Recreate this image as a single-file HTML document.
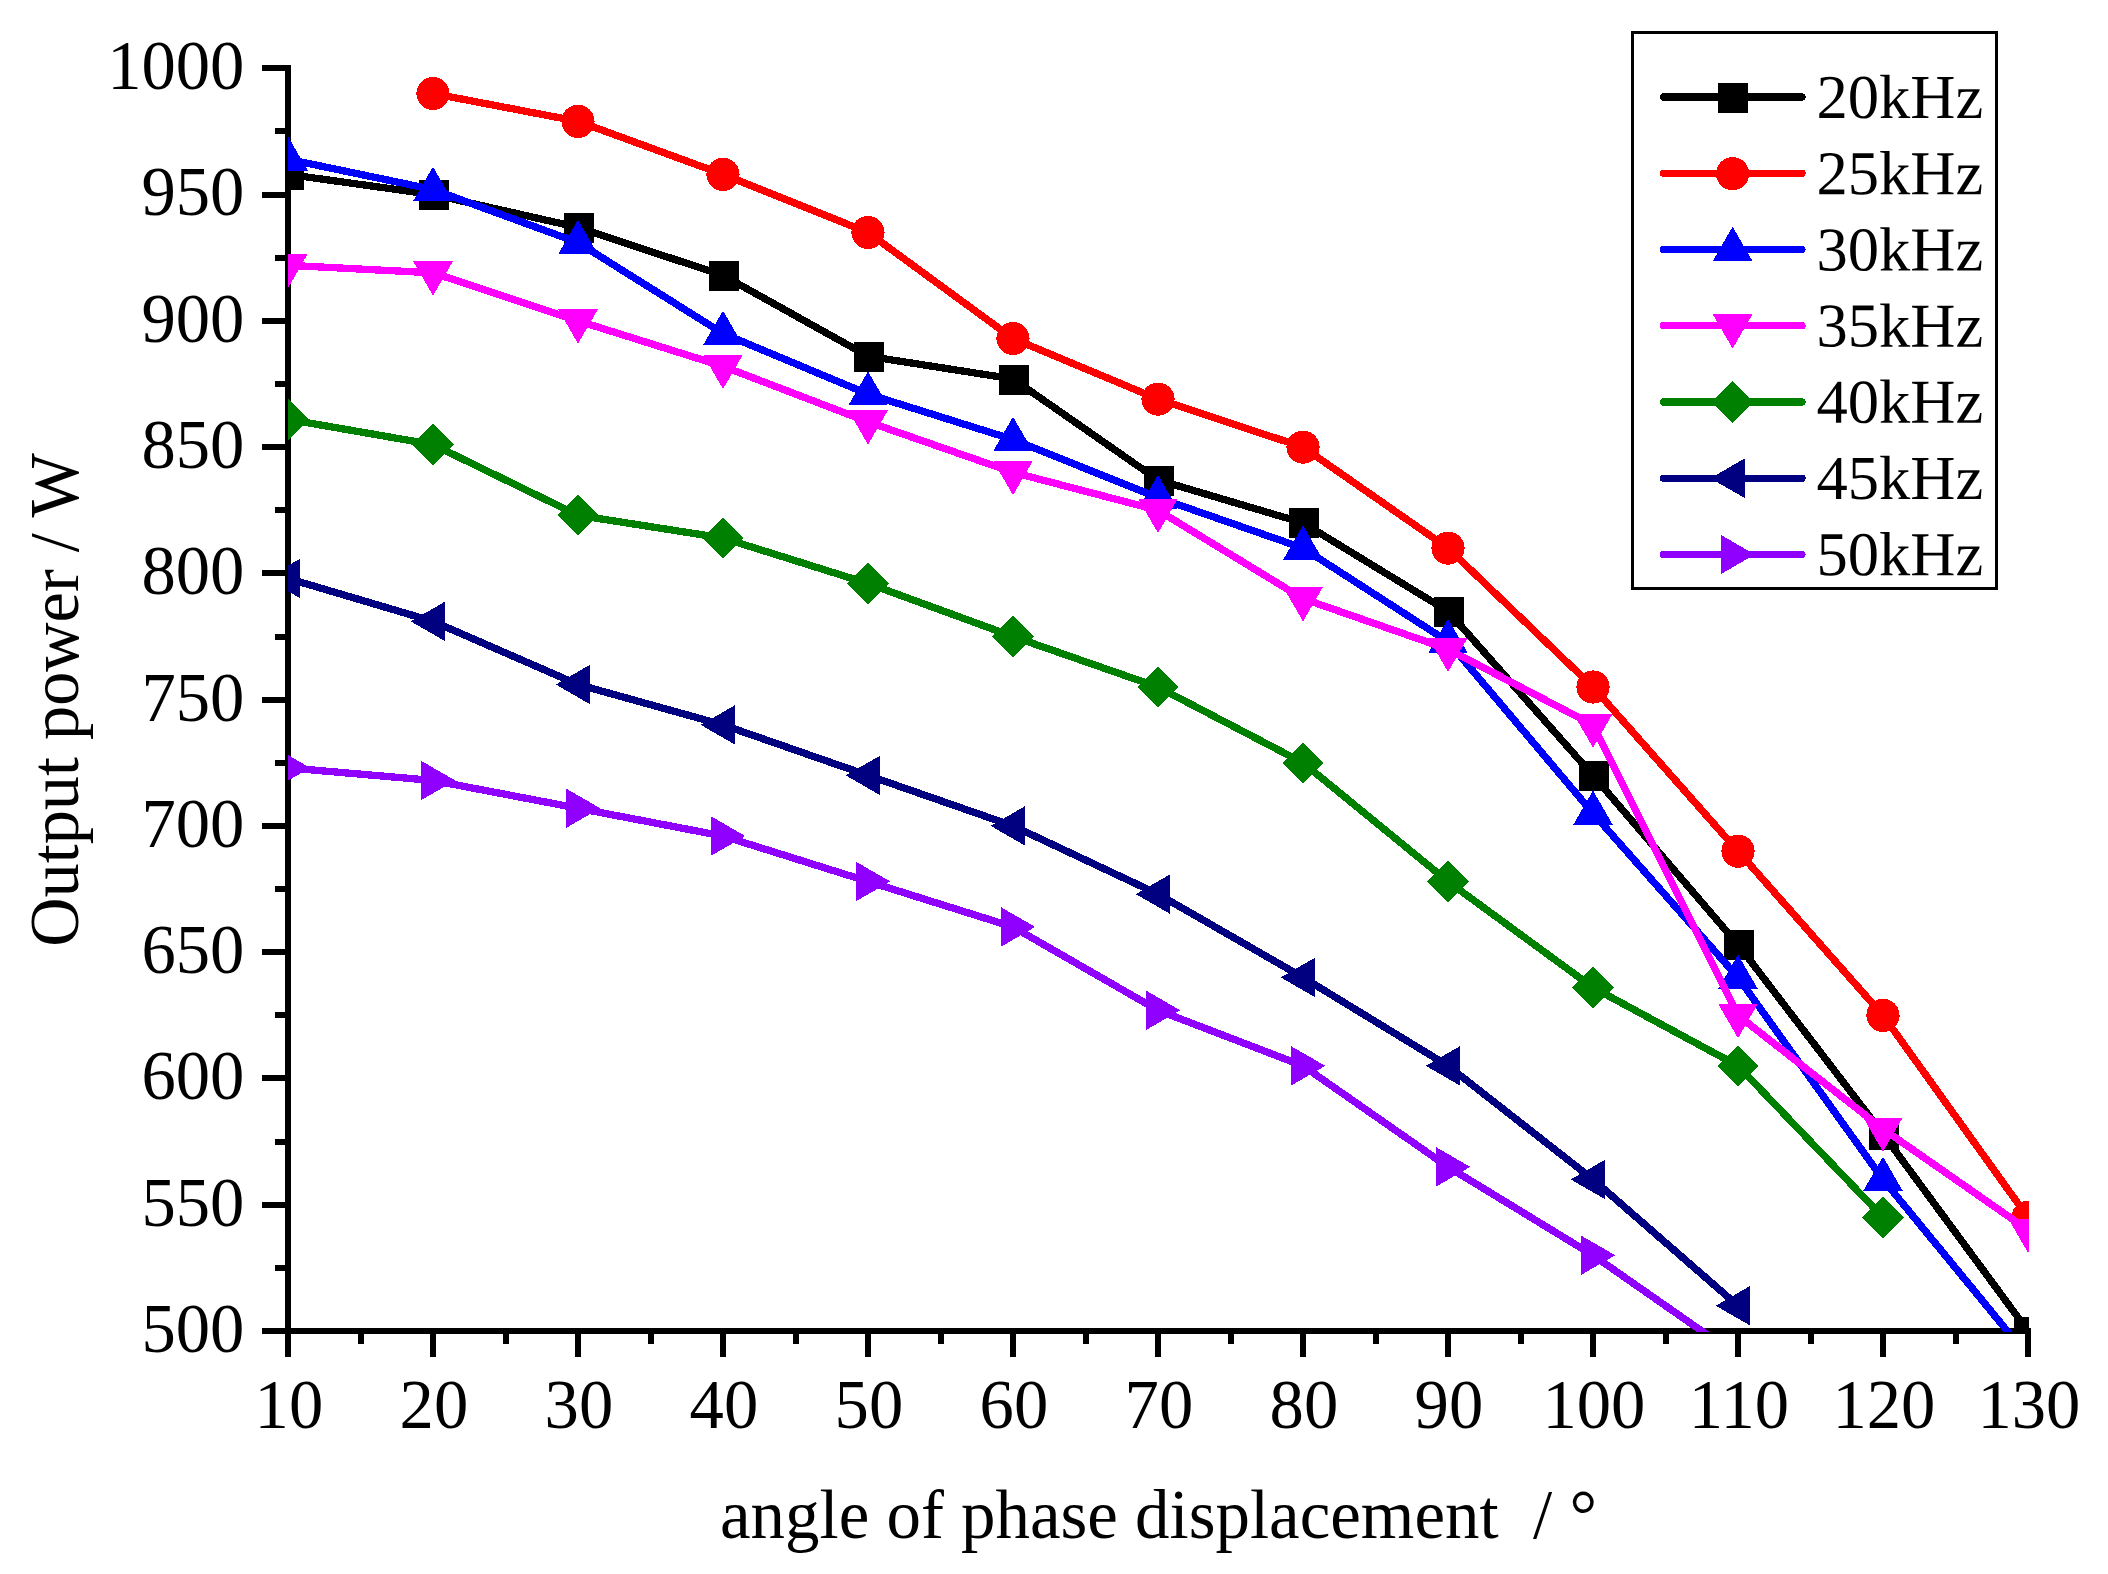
<!DOCTYPE html>
<html lang="en"><head><meta charset="utf-8"><title>Output power vs angle of phase displacement</title>
<style>html,body{margin:0;padding:0;background:#fff}body{width:2108px;height:1574px;overflow:hidden}svg{display:block}text{font-family:"Liberation Serif",serif;fill:#000}</style></head><body>
<svg width="2108" height="1574" viewBox="0 0 2108 1574">
<rect width="2108" height="1574" fill="#fff"/>
<defs><clipPath id="pc"><rect x="288" y="40" width="1741" height="1292"/></clipPath></defs>
<g stroke="#000" stroke-width="6" fill="none" shape-rendering="crispEdges">
<line x1="288" y1="65.3" x2="288" y2="1334"/>
<line x1="262" y1="1331" x2="2031" y2="1331"/>
<line x1="262" y1="68.3" x2="288" y2="68.3"/>
<line x1="275" y1="131.44" x2="288" y2="131.44"/>
<line x1="262" y1="194.57" x2="288" y2="194.57"/>
<line x1="275" y1="257.7" x2="288" y2="257.7"/>
<line x1="262" y1="320.84" x2="288" y2="320.84"/>
<line x1="275" y1="383.98" x2="288" y2="383.98"/>
<line x1="262" y1="447.11" x2="288" y2="447.11"/>
<line x1="275" y1="510.25" x2="288" y2="510.25"/>
<line x1="262" y1="573.38" x2="288" y2="573.38"/>
<line x1="275" y1="636.51" x2="288" y2="636.51"/>
<line x1="262" y1="699.65" x2="288" y2="699.65"/>
<line x1="275" y1="762.78" x2="288" y2="762.78"/>
<line x1="262" y1="825.92" x2="288" y2="825.92"/>
<line x1="275" y1="889.05" x2="288" y2="889.05"/>
<line x1="262" y1="952.19" x2="288" y2="952.19"/>
<line x1="275" y1="1015.32" x2="288" y2="1015.32"/>
<line x1="262" y1="1078.46" x2="288" y2="1078.46"/>
<line x1="275" y1="1141.59" x2="288" y2="1141.59"/>
<line x1="262" y1="1204.73" x2="288" y2="1204.73"/>
<line x1="275" y1="1267.86" x2="288" y2="1267.86"/>
<line x1="288" y1="1331" x2="288" y2="1357"/>
<line x1="360.5" y1="1331" x2="360.5" y2="1344"/>
<line x1="433" y1="1331" x2="433" y2="1357"/>
<line x1="505.5" y1="1331" x2="505.5" y2="1344"/>
<line x1="578" y1="1331" x2="578" y2="1357"/>
<line x1="650.5" y1="1331" x2="650.5" y2="1344"/>
<line x1="723" y1="1331" x2="723" y2="1357"/>
<line x1="795.5" y1="1331" x2="795.5" y2="1344"/>
<line x1="868" y1="1331" x2="868" y2="1357"/>
<line x1="940.5" y1="1331" x2="940.5" y2="1344"/>
<line x1="1013" y1="1331" x2="1013" y2="1357"/>
<line x1="1085.5" y1="1331" x2="1085.5" y2="1344"/>
<line x1="1158" y1="1331" x2="1158" y2="1357"/>
<line x1="1230.5" y1="1331" x2="1230.5" y2="1344"/>
<line x1="1303" y1="1331" x2="1303" y2="1357"/>
<line x1="1375.5" y1="1331" x2="1375.5" y2="1344"/>
<line x1="1448" y1="1331" x2="1448" y2="1357"/>
<line x1="1520.5" y1="1331" x2="1520.5" y2="1344"/>
<line x1="1593" y1="1331" x2="1593" y2="1357"/>
<line x1="1665.5" y1="1331" x2="1665.5" y2="1344"/>
<line x1="1738" y1="1331" x2="1738" y2="1357"/>
<line x1="1810.5" y1="1331" x2="1810.5" y2="1344"/>
<line x1="1883" y1="1331" x2="1883" y2="1357"/>
<line x1="1955.5" y1="1331" x2="1955.5" y2="1344"/>
<line x1="2028" y1="1331" x2="2028" y2="1357"/>
</g>
<g font-size="68.6">
<text transform="translate(244.3 89.2) scale(1 1.02)" text-anchor="end">1000</text>
<text transform="translate(244.3 215.47) scale(1 1.02)" text-anchor="end">950</text>
<text transform="translate(244.3 341.74) scale(1 1.02)" text-anchor="end">900</text>
<text transform="translate(244.3 468.01) scale(1 1.02)" text-anchor="end">850</text>
<text transform="translate(244.3 594.28) scale(1 1.02)" text-anchor="end">800</text>
<text transform="translate(244.3 720.55) scale(1 1.02)" text-anchor="end">750</text>
<text transform="translate(244.3 846.82) scale(1 1.02)" text-anchor="end">700</text>
<text transform="translate(244.3 973.09) scale(1 1.02)" text-anchor="end">650</text>
<text transform="translate(244.3 1099.36) scale(1 1.02)" text-anchor="end">600</text>
<text transform="translate(244.3 1225.63) scale(1 1.02)" text-anchor="end">550</text>
<text transform="translate(244.3 1351.9) scale(1 1.02)" text-anchor="end">500</text>
<text transform="translate(288.9 1428) scale(1 1.02)" text-anchor="middle">10</text>
<text transform="translate(433.9 1428) scale(1 1.02)" text-anchor="middle">20</text>
<text transform="translate(578.9 1428) scale(1 1.02)" text-anchor="middle">30</text>
<text transform="translate(723.9 1428) scale(1 1.02)" text-anchor="middle">40</text>
<text transform="translate(868.9 1428) scale(1 1.02)" text-anchor="middle">50</text>
<text transform="translate(1013.9 1428) scale(1 1.02)" text-anchor="middle">60</text>
<text transform="translate(1158.9 1428) scale(1 1.02)" text-anchor="middle">70</text>
<text transform="translate(1303.9 1428) scale(1 1.02)" text-anchor="middle">80</text>
<text transform="translate(1448.9 1428) scale(1 1.02)" text-anchor="middle">90</text>
<text transform="translate(1593.9 1428) scale(1 1.02)" text-anchor="middle">100</text>
<text transform="translate(1738.9 1428) scale(1 1.02)" text-anchor="middle">110</text>
<text transform="translate(1883.9 1428) scale(1 1.02)" text-anchor="middle">120</text>
<text transform="translate(2028.9 1428) scale(1 1.02)" text-anchor="middle">130</text>
<text x="1158.5" y="1538.4" font-size="68.9" text-anchor="middle" xml:space="preserve">angle of phase displacement  / °</text>
<text transform="translate(78.4 699.9) rotate(-90) scale(1 1.02)" font-size="68.3" text-anchor="middle">Output power / W</text>
</g>
<g clip-path="url(#pc)" shape-rendering="crispEdges">
<polyline fill="none" stroke="#000000" stroke-width="7.3" stroke-linejoin="round" stroke-linecap="round" points="288,174.37 433,194.57 578,227.4 723,275.38 868,356.2 1013,378.92 1158,479.94 1303,522.87 1448,611.26 1593,775.41 1738,944.61 1883,1134.02 2028,1331"/>
<rect x="273.75" y="159.97" width="30" height="30" fill="#000000"/>
<rect x="418.75" y="180.17" width="30" height="30" fill="#000000"/>
<rect x="563.75" y="213" width="30" height="30" fill="#000000"/>
<rect x="708.75" y="260.98" width="30" height="30" fill="#000000"/>
<rect x="853.75" y="341.8" width="30" height="30" fill="#000000"/>
<rect x="998.75" y="364.52" width="30" height="30" fill="#000000"/>
<rect x="1143.75" y="465.54" width="30" height="30" fill="#000000"/>
<rect x="1288.75" y="508.47" width="30" height="30" fill="#000000"/>
<rect x="1433.75" y="596.86" width="30" height="30" fill="#000000"/>
<rect x="1578.75" y="761.01" width="30" height="30" fill="#000000"/>
<rect x="1723.75" y="930.21" width="30" height="30" fill="#000000"/>
<rect x="1868.75" y="1119.62" width="30" height="30" fill="#000000"/>
<rect x="2013.75" y="1316.6" width="30" height="30" fill="#000000"/>
<polyline fill="none" stroke="#ff0000" stroke-width="7.3" stroke-linejoin="round" stroke-linecap="round" points="433,93.55 578,121.33 723,174.37 868,232.45 1013,338.52 1158,399.13 1303,447.11 1448,548.13 1593,687.02 1738,851.17 1883,1015.32 2028,1217.36"/>
<circle cx="433" cy="93.55" r="16.6" fill="#ff0000"/>
<circle cx="578" cy="121.33" r="16.6" fill="#ff0000"/>
<circle cx="723" cy="174.37" r="16.6" fill="#ff0000"/>
<circle cx="868" cy="232.45" r="16.6" fill="#ff0000"/>
<circle cx="1013" cy="338.52" r="16.6" fill="#ff0000"/>
<circle cx="1158" cy="399.13" r="16.6" fill="#ff0000"/>
<circle cx="1303" cy="447.11" r="16.6" fill="#ff0000"/>
<circle cx="1448" cy="548.13" r="16.6" fill="#ff0000"/>
<circle cx="1593" cy="687.02" r="16.6" fill="#ff0000"/>
<circle cx="1738" cy="851.17" r="16.6" fill="#ff0000"/>
<circle cx="1883" cy="1015.32" r="16.6" fill="#ff0000"/>
<circle cx="2028" cy="1217.36" r="16.6" fill="#ff0000"/>
<polyline fill="none" stroke="#0000ff" stroke-width="7.3" stroke-linejoin="round" stroke-linecap="round" points="288,159.21 433,189.52 578,242.55 723,333.47 868,394.08 1013,439.53 1158,497.62 1303,548.13 1448,641.57 1593,813.29 1738,977.44 1883,1179.48 2028,1356.25"/>
<polygon points="288,136.41 268.25,170.62 307.75,170.62" fill="#0000ff"/>
<polygon points="433,166.71 413.25,200.92 452.75,200.92" fill="#0000ff"/>
<polygon points="578,219.75 558.25,253.96 597.75,253.96" fill="#0000ff"/>
<polygon points="723,310.66 703.25,344.87 742.75,344.87" fill="#0000ff"/>
<polygon points="868,371.27 848.25,405.48 887.75,405.48" fill="#0000ff"/>
<polygon points="1013,416.73 993.25,450.94 1032.75,450.94" fill="#0000ff"/>
<polygon points="1158,474.81 1138.25,509.02 1177.75,509.02" fill="#0000ff"/>
<polygon points="1303,525.32 1283.25,559.53 1322.75,559.53" fill="#0000ff"/>
<polygon points="1448,618.76 1428.25,652.97 1467.75,652.97" fill="#0000ff"/>
<polygon points="1593,790.49 1573.25,824.7 1612.75,824.7" fill="#0000ff"/>
<polygon points="1738,954.64 1718.25,988.85 1757.75,988.85" fill="#0000ff"/>
<polygon points="1883,1156.67 1863.25,1190.88 1902.75,1190.88" fill="#0000ff"/>
<polygon points="2028,1333.45 2008.25,1367.66 2047.75,1367.66" fill="#0000ff"/>
<polyline fill="none" stroke="#ff00ff" stroke-width="7.3" stroke-linejoin="round" stroke-linecap="round" points="288,265.28 433,272.86 578,320.84 723,366.3 868,421.86 1013,472.36 1158,510.25 1303,598.63 1448,649.14 1593,724.9 1738,1015.32 1883,1128.97 2028,1229.98"/>
<polygon points="288,288.09 268.25,253.88 307.75,253.88" fill="#ff00ff"/>
<polygon points="433,295.66 413.25,261.45 452.75,261.45" fill="#ff00ff"/>
<polygon points="578,343.65 558.25,309.44 597.75,309.44" fill="#ff00ff"/>
<polygon points="723,389.1 703.25,354.89 742.75,354.89" fill="#ff00ff"/>
<polygon points="868,444.66 848.25,410.45 887.75,410.45" fill="#ff00ff"/>
<polygon points="1013,495.17 993.25,460.96 1032.75,460.96" fill="#ff00ff"/>
<polygon points="1158,533.05 1138.25,498.84 1177.75,498.84" fill="#ff00ff"/>
<polygon points="1303,621.44 1283.25,587.23 1322.75,587.23" fill="#ff00ff"/>
<polygon points="1448,671.95 1428.25,637.74 1467.75,637.74" fill="#ff00ff"/>
<polygon points="1593,747.71 1573.25,713.5 1612.75,713.5" fill="#ff00ff"/>
<polygon points="1738,1038.13 1718.25,1003.92 1757.75,1003.92" fill="#ff00ff"/>
<polygon points="1883,1151.77 1863.25,1117.57 1902.75,1117.57" fill="#ff00ff"/>
<polygon points="2028,1252.79 2008.25,1218.58 2047.75,1218.58" fill="#ff00ff"/>
<polyline fill="none" stroke="#008000" stroke-width="7.3" stroke-linejoin="round" stroke-linecap="round" points="288,419.33 433,444.58 578,515.3 723,538.02 868,583.48 1013,636.51 1158,687.02 1303,762.78 1448,881.48 1593,987.55 1738,1065.83 1883,1217.36"/>
<polygon points="288,398.63 308.7,419.33 288,440.03 267.3,419.33" fill="#008000"/>
<polygon points="433,423.88 453.7,444.58 433,465.28 412.3,444.58" fill="#008000"/>
<polygon points="578,494.6 598.7,515.3 578,536 557.3,515.3" fill="#008000"/>
<polygon points="723,517.32 743.7,538.02 723,558.72 702.3,538.02" fill="#008000"/>
<polygon points="868,562.78 888.7,583.48 868,604.18 847.3,583.48" fill="#008000"/>
<polygon points="1013,615.81 1033.7,636.51 1013,657.21 992.3,636.51" fill="#008000"/>
<polygon points="1158,666.32 1178.7,687.02 1158,707.72 1137.3,687.02" fill="#008000"/>
<polygon points="1303,742.08 1323.7,762.78 1303,783.49 1282.3,762.78" fill="#008000"/>
<polygon points="1448,860.78 1468.7,881.48 1448,902.18 1427.3,881.48" fill="#008000"/>
<polygon points="1593,966.85 1613.7,987.55 1593,1008.25 1572.3,987.55" fill="#008000"/>
<polygon points="1738,1045.13 1758.7,1065.83 1738,1086.53 1717.3,1065.83" fill="#008000"/>
<polygon points="1883,1196.66 1903.7,1217.36 1883,1238.06 1862.3,1217.36" fill="#008000"/>
<polyline fill="none" stroke="#000080" stroke-width="7.3" stroke-linejoin="round" stroke-linecap="round" points="288,578.43 433,621.36 578,684.5 723,724.9 868,775.41 1013,825.92 1158,894.11 1303,977.44 1448,1065.83 1593,1179.48 1738,1305.75"/>
<polygon points="265.79,578.43 300,558.68 300,598.18" fill="#000080"/>
<polygon points="410.79,621.36 445,601.61 445,641.11" fill="#000080"/>
<polygon points="555.79,684.5 590,664.75 590,704.25" fill="#000080"/>
<polygon points="700.79,724.9 735,705.15 735,744.65" fill="#000080"/>
<polygon points="845.79,775.41 880,755.66 880,795.16" fill="#000080"/>
<polygon points="990.79,825.92 1025,806.17 1025,845.67" fill="#000080"/>
<polygon points="1135.79,894.11 1170,874.36 1170,913.86" fill="#000080"/>
<polygon points="1280.79,977.44 1315,957.69 1315,997.19" fill="#000080"/>
<polygon points="1425.79,1065.83 1460,1046.08 1460,1085.58" fill="#000080"/>
<polygon points="1570.79,1179.48 1605,1159.73 1605,1199.23" fill="#000080"/>
<polygon points="1715.79,1305.75 1750,1286 1750,1325.5" fill="#000080"/>
<polyline fill="none" stroke="#9000ff" stroke-width="7.3" stroke-linejoin="round" stroke-linecap="round" points="288,767.84 433,780.46 578,808.24 723,836.02 868,881.48 1013,926.94 1158,1010.27 1303,1065.83 1448,1166.85 1593,1255.24 1738,1356.25"/>
<polygon points="310.21,767.84 276,748.09 276,787.59" fill="#9000ff"/>
<polygon points="455.21,780.46 421,760.71 421,800.21" fill="#9000ff"/>
<polygon points="600.21,808.24 566,788.49 566,827.99" fill="#9000ff"/>
<polygon points="745.21,836.02 711,816.27 711,855.77" fill="#9000ff"/>
<polygon points="890.21,881.48 856,861.73 856,901.23" fill="#9000ff"/>
<polygon points="1035.21,926.94 1001,907.19 1001,946.69" fill="#9000ff"/>
<polygon points="1180.21,1010.27 1146,990.52 1146,1030.02" fill="#9000ff"/>
<polygon points="1325.21,1065.83 1291,1046.08 1291,1085.58" fill="#9000ff"/>
<polygon points="1470.21,1166.85 1436,1147.1 1436,1186.6" fill="#9000ff"/>
<polygon points="1615.21,1255.24 1581,1235.49 1581,1274.99" fill="#9000ff"/>
<polygon points="1760.21,1356.25 1726,1336.5 1726,1376" fill="#9000ff"/>
</g>
<g shape-rendering="crispEdges">
<rect x="1632.5" y="32.5" width="364" height="555.6" fill="#fff" stroke="#000" stroke-width="3"/>
<line x1="1663.4" y1="97" x2="1802" y2="97" stroke="#000000" stroke-width="7.3" stroke-linecap="round"/>
<rect x="1718.35" y="83" width="30" height="30" fill="#000000"/>
<text transform="translate(1816.5 118) rotate(0.03)" font-size="62.5">20kHz</text>
<line x1="1663.4" y1="173.25" x2="1802" y2="173.25" stroke="#ff0000" stroke-width="7.3" stroke-linecap="round"/>
<circle cx="1732.6" cy="173.65" r="16.6" fill="#ff0000"/>
<text transform="translate(1816.5 194.2) rotate(0.03)" font-size="62.5">25kHz</text>
<line x1="1663.4" y1="249.5" x2="1802" y2="249.5" stroke="#0000ff" stroke-width="7.3" stroke-linecap="round"/>
<polygon points="1732.6,226.69 1712.85,260.9 1752.35,260.9" fill="#0000ff"/>
<text transform="translate(1816.5 270.4) rotate(0.03)" font-size="62.5">30kHz</text>
<line x1="1663.4" y1="325.75" x2="1802" y2="325.75" stroke="#ff00ff" stroke-width="7.3" stroke-linecap="round"/>
<polygon points="1732.6,348.56 1712.85,314.35 1752.35,314.35" fill="#ff00ff"/>
<text transform="translate(1816.5 346.6) rotate(0.03)" font-size="62.5">35kHz</text>
<line x1="1663.4" y1="402" x2="1802" y2="402" stroke="#008000" stroke-width="7.3" stroke-linecap="round"/>
<polygon points="1732.6,381.3 1753.3,402 1732.6,422.7 1711.9,402" fill="#008000"/>
<text transform="translate(1816.5 422.8) rotate(0.03)" font-size="62.5">40kHz</text>
<line x1="1663.4" y1="478.25" x2="1802" y2="478.25" stroke="#000080" stroke-width="7.3" stroke-linecap="round"/>
<polygon points="1710.39,478.25 1744.6,458.5 1744.6,498" fill="#000080"/>
<text transform="translate(1816.5 499) rotate(0.03)" font-size="62.5">45kHz</text>
<line x1="1663.4" y1="554.5" x2="1802" y2="554.5" stroke="#9000ff" stroke-width="7.3" stroke-linecap="round"/>
<polygon points="1754.81,554.5 1720.6,534.75 1720.6,574.25" fill="#9000ff"/>
<text transform="translate(1816.5 575.2) rotate(0.03)" font-size="62.5">50kHz</text>
</g>
</svg></body></html>
